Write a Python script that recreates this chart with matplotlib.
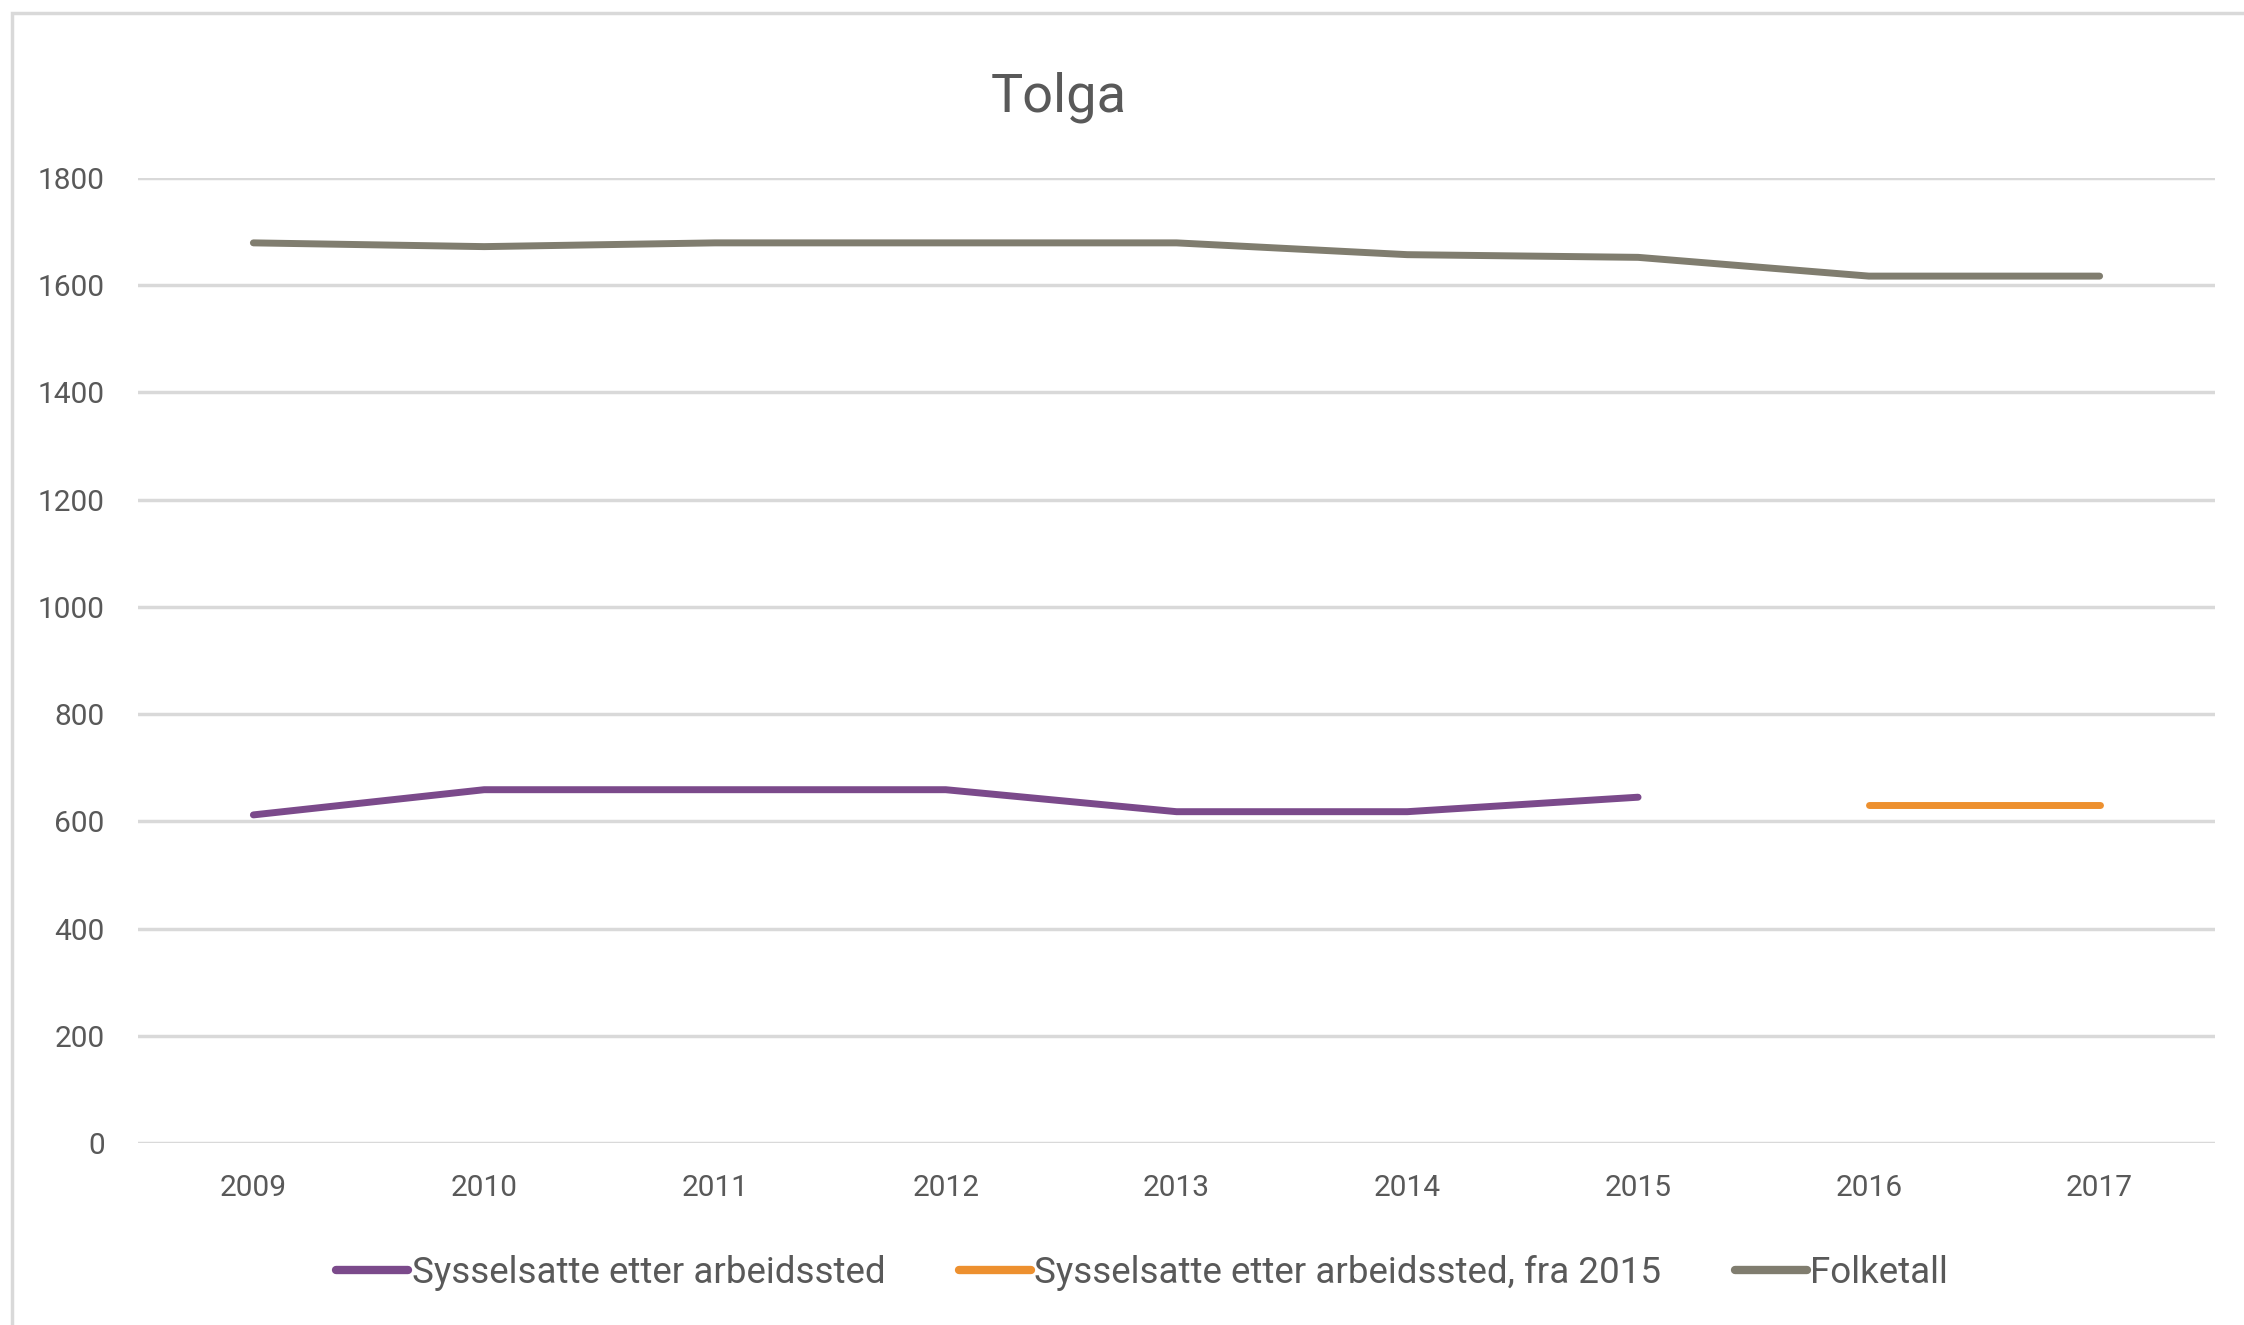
import numpy as np
import matplotlib
matplotlib.use("Agg")
import matplotlib.pyplot as plt
from matplotlib.patches import Rectangle

plt.rcParams['font.family'] = ['Roboto', 'DejaVu Sans']

# data
years = ['2009', '2010', '2011', '2012', '2013', '2014', '2015', '2016', '2017']
sysselsatte = [612, 659, 659, 659, 618, 618, 645, np.nan, np.nan]
sysselsatte_fra2015 = [np.nan, np.nan, np.nan, np.nan, np.nan, np.nan, np.nan, 631, 631]
folketall = [1679, 1672, 1679, 1679, 1679, 1657, 1652, 1617, 1617]
y_ticks = [0, 200, 400, 600, 800, 1000, 1200, 1400, 1600, 1800]

labels = ['Sysselsatte etter arbeidssted',
          'Sysselsatte etter arbeidssted, fra 2015',
          'Folketall']
colors = ['#7b4a8b', '#ed902f', '#807d6f']
text_color = '#595959'

W, H = 2244, 1325
fig = plt.figure(figsize=(W / 100, H / 100), dpi=100)

# light frame around the chart area
fig.patches.append(Rectangle((12 / W, -0.02), 1.05, 1 - 13 / H + 0.02,
                             transform=fig.transFigure, fill=False,
                             edgecolor='#d9d9d9', linewidth=2.5))

ax = fig.add_axes([138 / W, 1 - 1143 / H, (2215 - 138) / W, (1143 - 178) / H])

x = np.arange(len(years))
series = [sysselsatte, sysselsatte_fra2015, folketall]
for vals, lab, col in zip(series, labels, colors):
    ax.plot(x, vals, color=col, linewidth=5, solid_capstyle='round',
            solid_joinstyle='round', label=lab, zorder=3)

ax.set_xlim(-0.5, len(years) - 0.5)
ax.set_ylim(0, 1800)
ax.set_yticks(y_ticks)
ax.set_xticks(x)
ax.set_xticklabels(years)
ax.yaxis.grid(True, color='#d9d9d9', linewidth=2.5)
ax.set_axisbelow(True)
for s in ax.spines.values():
    s.set_visible(False)
ax.tick_params(axis='both', length=0, labelsize=21.5, colors=text_color)
ax.tick_params(axis='y', pad=24)
ax.tick_params(axis='x', pad=22)

fig.text(1059 / W, 1 - 97 / H, 'Tolga', ha='center', va='center',
         fontsize=39, color=text_color)

leg = fig.legend(loc='center', bbox_to_anchor=(0.509, 1 - 1273 / H), ncol=3,
                 frameon=False, fontsize=26.5, handlelength=1.95,
                 handletextpad=0.1, columnspacing=2.0)
for t in leg.get_texts():
    t.set_color(text_color)
for h in leg.get_lines():
    h.set_linewidth(6)
    h.set_solid_capstyle('round')

fig.savefig('out.png', dpi=100)
